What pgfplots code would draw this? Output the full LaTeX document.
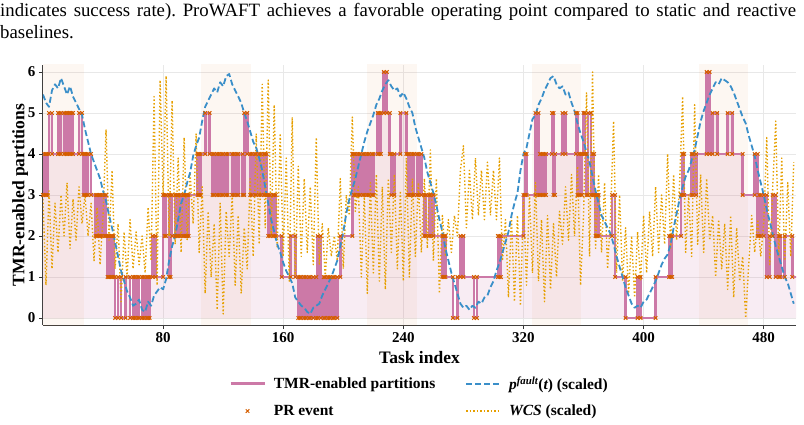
\documentclass[border=0pt]{standalone}
\usepackage{fontspec}
\setmainfont{Liberation Serif}
\usepackage{pgfplots}
\usepackage{pgfplotstable}
\pgfplotsset{compat=1.18}
\definecolor{tmr}{HTML}{CC79A7}
\definecolor{pfc}{HTML}{3A8FC9}
\definecolor{wcs}{HTML}{E69F00}
\definecolor{prc}{HTML}{D55E00}
\pgfplotsset{
  mylinelegend/.style={legend image code/.code={\draw[##1] (0pt,0pt) -- (34pt,0pt);}},
  mymarklegend/.style={legend image code/.code={\draw[##1] plot coordinates {(17pt,0pt)};}},
}
\pgfplotstableread{
x y prev
0 3 3
1 4 3
2 3 4
3 4 3
4 5 4
6 4 5
10 5 4
11 4 5
12 5 4
14 4 5
15 5 4
16 4 5
17 5 4
18 4 5
19 5 4
20 4 5
24 5 4
26 4 5
27 3 4
28 4 3
29 3 4
30 4 3
32 3 4
35 2 3
36 3 2
37 2 3
38 3 2
39 2 3
41 3 2
42 2 3
43 1 2
44 2 1
45 1 2
46 2 1
47 1 2
48 0 1
50 1 0
52 0 1
55 1 0
58 0 1
60 1 0
61 0 1
63 1 0
64 0 1
66 1 0
67 0 1
69 1 0
70 0 1
71 1 0
73 2 1
75 1 2
80 3 1
81 2 3
82 3 2
84 1 3
85 3 1
86 2 3
88 3 2
89 2 3
90 3 2
91 2 3
93 3 2
94 2 3
95 3 2
96 2 3
97 3 2
103 4 3
104 3 4
105 4 3
108 5 4
111 4 5
113 3 4
114 4 3
116 3 4
117 4 3
119 3 4
120 4 3
122 3 4
123 4 3
126 3 4
127 4 3
129 3 4
130 4 3
133 3 4
134 5 3
136 4 5
138 3 4
139 4 3
141 3 4
142 4 3
144 3 4
145 4 3
147 3 4
148 4 3
149 3 4
150 2 3
151 3 2
153 2 3
154 3 2
155 2 3
159 1 2
165 2 1
168 1 2
170 0 1
171 1 0
172 0 1
174 1 0
175 0 1
177 1 0
178 0 1
180 1 0
182 0 1
183 2 0
185 0 2
187 1 0
188 0 1
190 1 0
191 0 1
193 1 0
194 0 1
196 1 0
198 2 1
206 4 2
207 3 4
208 4 3
210 3 4
211 4 3
213 3 4
214 4 3
216 3 4
217 4 3
219 3 4
220 4 3
223 5 4
224 4 5
225 5 4
227 6 5
229 5 6
231 4 5
232 3 4
234 4 3
238 5 4
242 4 5
243 3 4
244 4 3
246 3 4
247 4 3
249 3 4
250 4 3
252 3 4
254 2 3
255 3 2
257 2 3
258 3 2
260 2 3
266 1 2
267 2 1
268 1 2
273 0 1
276 1 0
278 2 1
280 1 2
287 0 1
289 1 0
303 2 1
304 1 2
305 2 1
320 3 2
321 4 3
322 3 4
328 5 3
330 3 5
331 4 3
332 3 4
333 4 3
334 3 4
335 4 3
339 5 4
340 3 5
341 4 3
346 5 4
348 4 5
355 5 4
356 3 5
357 4 3
358 3 4
359 4 3
360 5 4
361 4 5
362 3 4
363 5 3
365 3 5
366 4 3
367 3 4
368 2 3
369 3 2
370 2 3
379 3 2
381 1 3
388 0 1
396 1 0
398 0 1
408 1 0
417 2 1
418 1 2
419 2 1
425 3 2
426 4 3
427 3 4
432 4 3
433 3 4
435 4 3
442 6 4
444 4 6
446 5 4
449 4 5
456 5 4
459 4 5
466 3 4
474 4 3
476 2 4
477 3 2
478 2 3
480 3 2
482 1 3
484 2 1
486 3 2
488 1 3
490 2 1
491 1 2
494 2 1
499 1 2
505 1 1
}\tmrdata
\pgfplotstableread{
x y
0 5.45
2 5.25
4 5.15
6 5.55
8 5.7
10 5.6
12 5.85
14 5.65
16 5.45
18 5.65
20 5.4
22 5.25
24 5.1
26 4.95
28 4.6
30 4.3
32 4.0
34 3.8
36 3.6
38 3.4
40 3.1
42 2.85
44 2.5
46 2.2
48 1.85
50 1.5
52 1.15
54 0.9
56 0.65
58 0.5
60 0.3
62 0.35
64 0.45
66 0.2
68 0.15
70 0.4
72 0.3
74 0.55
76 0.65
78 0.75
80 0.7
82 0.95
84 1.4
86 1.75
88 2.0
90 2.4
92 2.8
94 3.0
96 3.3
98 3.55
100 3.95
102 4.2
104 4.4
106 4.8
108 5.15
110 5.3
112 5.45
114 5.6
116 5.5
118 5.75
120 5.65
122 5.9
124 5.95
126 5.7
128 5.55
130 5.4
132 5.25
134 5.0
136 4.8
138 4.55
140 4.3
142 4.15
144 3.9
146 3.6
148 3.2
150 2.8
152 2.4
154 2.1
156 1.8
158 1.6
160 1.35
162 1.15
164 1.0
166 0.85
168 0.5
170 0.4
172 0.3
174 0.25
176 0.15
178 0.1
180 0.25
182 0.3
184 0.35
186 0.55
188 0.7
190 0.85
192 1.0
194 1.2
196 1.4
198 1.75
200 2.1
202 2.55
204 2.9
206 3.15
208 3.4
210 3.7
212 4.0
214 4.3
216 4.55
218 4.75
220 4.95
222 5.2
224 5.35
226 5.55
228 5.7
230 5.8
232 5.65
234 5.55
236 5.6
238 5.4
240 5.5
242 5.35
244 5.15
246 5.0
248 4.65
250 4.4
252 4.15
254 3.9
256 3.55
258 3.3
260 3.05
262 2.75
264 2.4
266 2.1
268 1.7
270 1.4
272 1.1
274 0.85
276 0.6
278 0.35
280 0.25
282 0.3
284 0.2
286 0.3
288 0.25
290 0.4
292 0.35
294 0.5
296 0.55
298 0.75
300 0.9
302 1.15
304 1.35
306 1.6
308 1.85
310 2.1
312 2.5
314 2.8
316 3.05
318 3.6
320 4.0
322 4.15
324 4.5
326 4.85
328 4.95
330 5.2
332 5.35
334 5.55
336 5.7
338 5.85
340 5.9
342 5.7
344 5.6
346 5.65
348 5.45
350 5.5
352 5.25
354 5.05
356 4.75
358 4.5
360 4.3
362 4.05
364 3.8
366 3.45
368 3.1
370 2.8
372 2.5
374 2.35
376 2.2
378 2.05
380 1.8
382 1.5
384 1.25
386 1.0
388 0.75
390 0.55
392 0.35
394 0.25
396 0.3
398 0.25
400 0.4
402 0.45
404 0.6
406 0.75
408 0.9
410 1.1
412 1.3
414 1.45
416 1.55
418 1.8
420 2.2
422 2.55
424 2.9
426 3.2
428 3.45
430 3.6
432 3.85
434 4.1
436 4.45
438 4.8
440 5.05
442 5.25
444 5.45
446 5.6
448 5.75
450 5.7
452 5.85
454 5.8
456 5.75
458 5.65
460 5.5
462 5.3
464 5.1
466 4.9
468 4.75
470 4.45
472 4.2
474 3.95
476 3.6
478 3.3
480 3.0
482 2.65
484 2.35
486 2.05
488 1.75
490 1.5
492 1.25
494 1.0
496 0.85
498 0.6
500 0.35
}\pfdata
\pgfplotstableread{
x y
0 2.9
2 0.8
4 3.1
6 1.2
8 2.8
10 1.6
12 3.0
14 2.0
16 3.3
18 1.7
20 2.9
22 1.9
24 3.2
26 2.3
28 3.0
30 2.0
32 2.8
34 1.4
36 2.7
38 1.3
40 2.5
42 4.6
44 1.9
46 3.6
48 1.2
50 2.3
52 0.4
54 2.1
56 1.0
58 2.4
60 1.2
62 2.1
64 1.3
66 2.0
68 1.1
70 2.7
72 1.4
74 5.4
76 0.8
78 5.8
80 3.0
82 5.9
84 2.0
86 5.3
88 1.8
90 3.9
92 1.6
94 4.4
96 1.9
98 3.5
100 2.3
102 4.5
104 1.6
106 3.2
108 0.6
110 2.6
112 1.0
114 2.3
116 0.2
118 2.8
120 0.1
122 2.6
124 1.5
126 3.0
128 0.8
130 2.5
132 0.6
134 2.2
136 1.2
138 3.4
140 1.5
142 4.5
144 1.8
146 5.7
148 2.2
150 5.8
152 2.0
154 5.2
156 1.7
158 4.5
160 1.5
162 3.9
164 0.9
166 4.9
168 1.0
170 3.7
172 1.5
174 3.4
176 1.6
178 3.2
180 1.3
182 4.4
184 1.3
186 2.3
188 1.0
190 2.2
192 1.5
194 2.0
196 1.4
198 3.4
200 1.2
202 3.0
204 2.5
206 4.9
208 2.6
210 3.2
212 1.0
214 3.0
216 0.6
218 3.3
220 1.1
222 3.5
224 0.9
226 3.2
228 0.7
230 3.4
232 1.6
234 3.5
236 1.2
238 3.1
240 0.9
242 3.9
244 1.0
246 3.4
248 1.5
250 3.3
252 1.6
254 3.4
256 1.7
258 4.1
260 1.4
262 3.4
264 0.6
266 2.5
268 1.5
270 2.4
272 1.6
274 2.5
276 2.0
278 3.6
280 4.2
282 2.2
284 3.6
286 2.4
288 3.9
290 2.5
292 3.6
294 2.4
296 3.8
298 2.5
300 3.6
302 2.4
304 3.9
306 1.4
308 2.4
310 0.5
312 2.5
314 0.4
316 2.5
318 0.3
320 2.9
322 0.8
324 3.0
326 1.1
328 3.3
330 0.9
332 2.4
334 0.4
336 2.5
338 0.7
340 2.3
342 1.0
344 2.6
346 1.8
348 3.2
350 1.9
352 3.5
354 2.0
356 3.7
358 0.8
360 2.5
362 5.5
364 1.5
366 6.0
368 1.7
370 3.5
372 1.6
374 3.3
376 1.2
378 2.5
380 4.8
382 1.1
384 3.0
386 0.9
388 2.2
390 0.6
392 2.0
394 0.5
396 2.1
398 0.9
400 2.5
402 1.1
404 2.6
406 1.5
408 3.2
410 1.6
412 3.0
414 1.8
416 4.0
418 1.7
420 3.5
422 1.9
424 3.3
426 5.4
428 1.6
430 3.0
432 1.5
434 5.2
436 1.8
438 3.5
440 1.6
442 3.4
444 1.9
446 2.5
448 1.0
450 2.4
452 1.2
454 2.3
456 0.7
458 2.5
460 0.5
462 2.2
464 0.9
466 1.5
468 0.0
470 1.3
472 2.5
474 1.6
476 2.4
478 1.5
480 2.3
482 4.4
484 1.3
486 3.2
488 4.8
490 1.5
492 3.9
494 1.4
496 3.3
498 1.5
500 3.8
}\wcsdata
\begin{document}
\frenchspacing
\begin{tikzpicture}
\useasboundingbox (0pt,0pt) rectangle (804pt,424pt);
\node[anchor=base west, inner sep=0pt, font=\fontsize{18.8}{22}\selectfont] at (0pt,407pt)
  {\makebox[796pt][s]{indicates success rate). ProWAFT achieves a favorable operating point compared to static and reactive}};
\node[anchor=base west, inner sep=0pt, font=\fontsize{18.8}{22}\selectfont] at (0pt,385pt) {baselines.};
\begin{axis}[
  at={(43pt,99pt)}, anchor=south west,
  scale only axis, width=753pt, height=260pt,
  xmin=0, xmax=501.5, ymin=-0.17, ymax=6.17,
  axis x line*=bottom, axis y line*=left,
  xtick={80,160,240,320,400,480}, ytick={0,1,2,3,4,5,6},
  tick align=outside, major tick length=4pt,
  tick style={draw=black!80, line width=0.8pt},
  axis line style={draw=black!75, line width=1pt},
  grid=major, major grid style={draw=black!9, line width=0.9pt},
  /pgf/number format/assume math mode=true,
  tick label style={font=\fontsize{15}{17}\selectfont\bfseries},
  label style={font=\fontsize{17.5}{20}\selectfont\bfseries},
  xlabel={Task index}, ylabel={TMR-enabled partitions},
  xlabel style={yshift=-2pt},
  ylabel style={yshift=-7pt},
  legend columns=2,
  legend cell align=left,
  legend style={draw=none, fill=none, at={(0.5,-0.182)}, anchor=north,
    font=\fontsize{15.5}{17}\selectfont\bfseries, row sep=10pt,
    /tikz/every odd column/.append style={column sep=6pt},
    /tikz/every even column/.append style={column sep=28pt}},
]
\addlegendimage{mylinelegend, tmr, line width=2.6pt}
\addlegendentry{TMR-enabled partitions}
\addlegendimage{mylinelegend, pfc, line width=1.8pt, dash pattern=on 6pt off 3pt}
\addlegendentry{{\itshape p}\textsuperscript{\itshape fault}({\itshape t}) (scaled)}
\addlegendimage{mymarklegend, only marks, mark=x, mark size=2.5pt, prc, mark options={line width=1pt}}
\addlegendentry{PR event}
\addlegendimage{mylinelegend, wcs, line width=1.5pt, dash pattern=on 1.5pt off 2pt}
\addlegendentry{\textit{WCS} (scaled)}
% high-risk bands
\addplot[draw=none, fill=prc, fill opacity=0.05, forget plot] coordinates {(-5,-1) (-5,7) (27,7) (27,-1)} -- cycle;
\addplot[draw=none, fill=prc, fill opacity=0.05, forget plot] coordinates {(105,-1) (105,7) (138.5,7) (138.5,-1)} -- cycle;
\addplot[draw=none, fill=prc, fill opacity=0.05, forget plot] coordinates {(216,-1) (216,7) (249,7) (249,-1)} -- cycle;
\addplot[draw=none, fill=prc, fill opacity=0.05, forget plot] coordinates {(326,-1) (326,7) (358,7) (358,-1)} -- cycle;
\addplot[draw=none, fill=prc, fill opacity=0.05, forget plot] coordinates {(437,-1) (437,7) (469.5,7) (469.5,-1)} -- cycle;
% fill under TMR
\addplot[const plot, draw=none, fill=tmr, fill opacity=0.14, forget plot] table[x=x,y=y]{\tmrdata} \closedcycle;
\addplot[const plot, tmr, line width=2.7pt, forget plot] table[x=x,y=y]{\tmrdata};
\addplot[wcs, line width=1.4pt, dash pattern=on 1.4pt off 2.2pt, line join=round, forget plot] table[x=x,y=y]{\wcsdata};
\addplot[pfc, line width=1.8pt, dash pattern=on 6pt off 3pt, line join=round, forget plot] table[x=x,y=y]{\pfdata};
\addplot[only marks, mark=x, mark size=2.5pt, mark options={prc, line width=1pt}, forget plot] table[x=x,y=y]{\tmrdata};
\addplot[only marks, mark=x, mark size=2.5pt, mark options={prc, line width=1pt}, forget plot] table[x=x,y=prev]{\tmrdata};
\end{axis}
\end{tikzpicture}
\end{document}
